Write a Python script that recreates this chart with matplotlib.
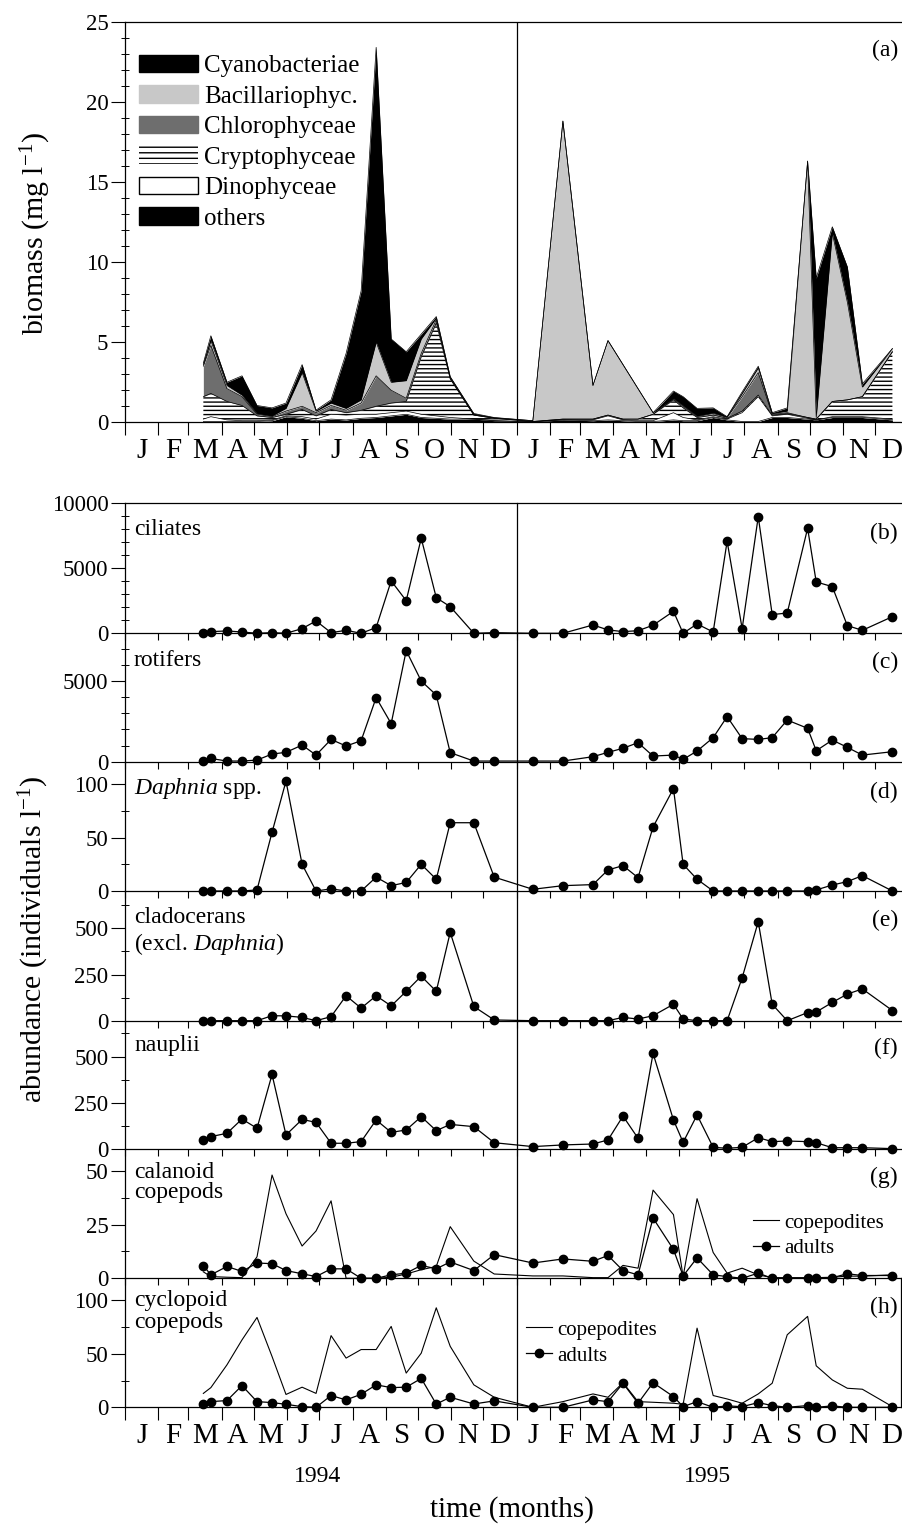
import numpy as np
import matplotlib
matplotlib.use('Agg')
import matplotlib.pyplot as plt
from matplotlib.patches import Patch
from matplotlib.ticker import FixedLocator, NullFormatter, FixedFormatter

plt.rcParams['font.family'] = ['Liberation Serif', 'DejaVu Serif']
plt.rcParams['mathtext.fontset'] = 'custom'
plt.rcParams['mathtext.rm'] = 'Liberation Serif'
plt.rcParams['mathtext.it'] = 'Liberation Serif:italic'
plt.rcParams['hatch.linewidth'] = 1.0

# ---------------- data ----------------
month_letters = ['J', 'F', 'M', 'A', 'M', 'J', 'J', 'A', 'S', 'O', 'N', 'D']
month_days = [31, 28, 31, 30, 31, 30, 31, 31, 30, 31, 30, 31]
years = ['1994', '1995']

# sampling dates, day number counted from 1 Jan 1994
days_1994 = [73, 80, 95, 109, 123, 137, 150, 165, 178, 192, 206, 220, 234, 248, 262,
             276, 290, 303, 325, 344]
days_1995 = [380, 408, 436, 450, 464, 478, 492, 511, 520, 533, 548, 561, 575, 590, 603,
             617, 636, 644, 659, 673, 687, 715]

# phytoplankton biomass (mg l-1) per group
others = [0.05, 0.05, 0.05, 0.05, 0.05, 0.1, 0.35, 0.25, 0.1, 0.2, 0.15, 0.25, 0.3, 0.4, 0.5,
          0.3, 0.25, 0.2, 0.2, 0.1,
          0.03, 0.15, 0.1, 0.15, 0.1, 0.05, 0.05, 0.15, 0.1, 0.1, 0.3, 0.15, 0.05, 0.05, 0.3,
          0.3, 0.2, 0.15, 0.3, 0.3, 0.3, 0.15]
dinophyceae = [0.15, 0.3, 0.1, 0.05, 0.05, 0.05, 0.05, 0.1, 0.1, 0.3, 0.3, 0.25, 0.2, 0.2, 0.2,
               0.2, 0.15, 0.1, 0.0, 0.0,
               0.0, 0.0, 0.05, 0.25, 0.05, 0.05, 0.05, 0.45, 0.2, 0.05, 0.05, 0.05, 0.55, 1.55, 0.1,
               0.2, 0.05, 0.0, 0.05, 0.05, 0.05, 0.05]
cryptophyceae = [1.4, 1.45, 1.15, 0.95, 0.3, 0.15, 0.1, 0.45, 0.2, 0.3, 0.15, 0.25, 0.5, 0.6, 0.6,
                 3.6, 5.8, 2.4, 0.25, 0.15,
                 0.02, 0.05, 0.05, 0.05, 0.05, 0.1, 0.4, 0.8, 0.6, 0.15, 0.1, 0.05, 0.1, 0.1, 0.05,
                 0.05, 0.05, 0.05, 0.95, 1.05, 1.25, 4.2]
chlorophyceae = [1.9, 3.0, 0.8, 0.55, 0.1, 0.05, 0.2, 0.2, 0.2, 0.25, 0.15, 0.45, 1.9, 0.8, 0.2,
                 0.2, 0.2, 0.05, 0.0, 0.0,
                 0.0, 0.0, 0.0, 0.0, 0.0, 0.0, 0.0, 0.05, 0.1, 0.05, 0.1, 0.05, 0.9, 1.4, 0.05,
                 0.05, 0.0, 0.0, 0.0, 0.0, 0.0, 0.0]
bacillariophyceae = [0.1, 0.3, 0.2, 0.1, 0.05, 0.05, 0.17, 2.1, 0.1, 0.15, 0.12, 0.2, 2.1, 0.5, 1.1,
                     0.9, 0.1, 0.05, 0.05, 0.03,
                     0.05, 18.6, 2.1, 4.65, 3.4, 1.9, 0.1, 0.05, 0.05, 0.05, 0.05, 0.03, 0.2, 0.3, 0.05,
                     0.1, 16.0, 0.1, 10.5, 6.1, 0.6, 0.2]
cyanobacteriae = [0.1, 0.3, 0.2, 1.2, 0.5, 0.5, 0.33, 0.5, 0.06, 0.2, 3.43, 6.8, 18.4, 2.7, 1.8,
                  0.3, 0.1, 0.05, 0.05, 0.02,
                  0.0, 0.0, 0.0, 0.0, 0.0, 0.0, 0.0, 0.45, 0.55, 0.47, 0.3, 0.02, 0.1, 0.1, 0.05,
                  0.2, 0.0, 8.7, 0.4, 2.2, 0.2, 0.0]

# zooplankton abundance (individuals l-1)
ciliates = [0, 130, 180, 100, 0, 50, 0, 360, 950, 50, 230, 0, 440, 4030, 2510, 7310, 2740, 2050, 0, 50,
            0, 0, 640, 260, 130, 200, 620, 1690, 0, 720, 100, 7080, 360, 8970, 1440, 1560, 8080,
            3950, 3590, 590, 230, 1280]
rotifers = [40, 200, 40, 40, 100, 475, 580, 1030, 410, 1380, 970, 1300, 3970, 2360, 6880, 5000, 4130,
            560, 40, 40,
            40, 40, 310, 580, 830, 1180, 350, 410, 145, 660, 1490, 2790, 1430, 1380, 1490, 2580, 2070,
            680, 1340, 890, 410, 620]
daphnia = [0, 0, 0, 0, 1, 55, 103, 25, 0, 2, 0, 0, 13, 5, 8, 25, 11, 64, 64, 13,
           1.6, 5, 6, 19.7, 23.8, 12.5, 60, 96, 25, 11, 0, 0, 0, 0, 0, 0, 0, 1, 5.6, 8.8, 14.4, 0]
cladocerans = [0, 0, 0, 0, 0, 27, 26, 18, 0, 22, 135, 68, 135, 80, 159, 241, 159, 478, 77, 4,
               0, 0, 0, 0, 18, 9, 27, 89, 9, 0, 0, 0, 232, 536, 89, 0, 44, 47, 99, 144, 172, 55]
nauplii = [49, 67, 85, 162, 112, 403, 76, 160, 144, 31, 31, 40, 157, 90, 103, 175, 99, 133, 121, 34,
           13, 22, 27, 49, 178, 58, 517, 157, 36, 184, 9, 4, 9, 61, 40, 43, 40, 34, 7, 7, 7, 2]
calanoid_copepodites = [3, 0.8, 0.5, 0.3, 10, 48, 30, 15, 22, 36, 0, 0, 0, 0.5, 2, 4, 5.5, 24, 8, 2,
                        1.1, 1.1, 0.3, 0.3, 6, 4.7, 41, 29.6, 0.8, 37, 12, 2.4, 4.7, 1.6, 0.3, 0.3,
                        0.3, 0.3, 0.5, 1, 1, 1.6]
calanoid_adults = [5.9, 1.6, 5.5, 3.2, 7.1, 6.8, 3.6, 2.1, 0.8, 4.4, 4.4, 0, 0, 1.6, 2.4, 6, 4.4, 7.6,
                   3.6, 11,
                   7.1, 9, 7.9, 10.6, 3.6, 1.6, 28, 13.4, 1.1, 9.5, 1.6, 0.8, 0, 2.4, 0, 0, 0, 0, 0.3,
                   2.1, 1.3, 1.3]
cyclopoid_copepodites = [13, 18.4, 39.7, 63, 84, 47.5, 12, 18.8, 13, 67, 46, 54, 54, 75.6, 32, 50.6, 93,
                         57, 21, 9.4,
                         0, 5.3, 12.5, 9.4, 23, 5.3, 4.7, 3.8, 2.8, 74, 11, 7.8, 3.8, 12.5, 22.5, 67.8,
                         85, 38.8, 25.6, 17.8, 16.9, 0.6]
cyclopoid_adults = [2.8, 5.3, 6.3, 20.3, 5.3, 4.4, 2.8, 0.6, 0, 11, 6.9, 12.2, 21, 18.4, 18.8, 27, 3,
                    9.4, 3.1, 6,
                    0, 0, 6.9, 5.3, 22.5, 3.8, 23, 10, 0.6, 5.3, 0, 1.3, 0.6, 4.4, 1.6, 0, 1.6, 0, 1.3,
                    0, 0, 0]

phyto_labels = ['Cyanobacteriae', 'Bacillariophyc.', 'Chlorophyceae', 'Cryptophyceae',
                'Dinophyceae', 'others']

# ---------------- layout helpers ----------------
W, H = 902, 1526
fig = plt.figure(figsize=(W / 100, H / 100), dpi=100)
XL, XR = 125, 901
days = np.array(days_1994 + days_1995, dtype=float)
edges = np.cumsum([0] + month_days * 2)
mids = (edges[:-1] + edges[1:]) / 2
XMAX = (XR - XL) / 1.0733


def box(top, bottom):
    return [XL / W, 1 - bottom / H, (XR - XL) / W, (bottom - top) / H]


def ftext(px, py, s, **kw):
    fig.text(px / W, 1 - py / H, s, **kw)


def month_axis(ax, tick_len, labels):
    ax.set_xlim(0, XMAX)
    ax.xaxis.set_major_locator(FixedLocator(edges))
    ax.xaxis.set_major_formatter(NullFormatter())
    ax.tick_params(axis='x', which='major', direction='out', length=tick_len, width=0.8)
    if labels:
        ax.xaxis.set_minor_locator(FixedLocator(mids))
        ax.xaxis.set_minor_formatter(FixedFormatter(month_letters * 2))
        ax.tick_params(axis='x', which='minor', length=0, labelsize=21, pad=11)
    else:
        ax.xaxis.set_minor_locator(FixedLocator([]))


def y_axis(ax, ymax, majors, minors):
    ax.set_ylim(0, ymax)
    ax.yaxis.set_major_locator(FixedLocator(majors))
    ax.yaxis.set_minor_locator(FixedLocator(minors))
    ax.tick_params(axis='y', which='major', direction='out', length=10, width=0.8,
                   labelsize=16.5, pad=2)
    ax.tick_params(axis='y', which='minor', direction='inout', length=6, width=0.7)


# ---------------- panel (a) ----------------
axa = fig.add_axes(box(21.7, 422.3))
axa.set_facecolor('none')
layers = [others, dinophyceae, cryptophyceae, chlorophyceae, bacillariophyceae, cyanobacteriae]
styles = [dict(facecolor='black', edgecolor='black'),
          dict(facecolor='white', edgecolor='black'),
          dict(facecolor='white', edgecolor='black', hatch='----'),
          dict(facecolor='#6e6e6e', edgecolor='#6e6e6e'),
          dict(facecolor='#c8c8c8', edgecolor='#c8c8c8'),
          dict(facecolor='black', edgecolor='black')]
base = np.zeros(len(days))
for vals, st in zip(layers, styles):
    top = base + np.array(vals)
    axa.fill_between(days, base, top, linewidth=0.0, **st)
    axa.plot(days, top, color='black', lw=0.5)
    base = top
axa.plot([days[-1], XMAX], [0, 0], color='black', lw=0.8)
axa.axvline(365, color='black', lw=0.9)
month_axis(axa, 9.5, True)
y_axis(axa, 25, [0, 5, 10, 15, 20, 25], [i for i in range(26) if i % 5])
axa.spines['right'].set_visible(False)
for s in axa.spines.values():
    s.set_linewidth(0.9)

handles = [Patch(facecolor='black', edgecolor='black'),
           Patch(facecolor='#c8c8c8', edgecolor='#c8c8c8'),
           Patch(facecolor='#6e6e6e', edgecolor='#6e6e6e'),
           Patch(facecolor='white', edgecolor='black', hatch='---', linewidth=0),
           Patch(facecolor='white', edgecolor='black', linewidth=1.0),
           Patch(facecolor='black', edgecolor='black')]
axa.legend(handles, phyto_labels, loc='upper left', bbox_to_anchor=(-0.0015, 0.955),
           frameon=False, fontsize=18, handlelength=2.36, handleheight=0.7,
           labelspacing=0.32, handletextpad=0.24, borderaxespad=0.2)
ftext(898, 50, '(a)', ha='right', va='center', fontsize=17)

# ---------------- zooplankton panels ----------------
# (tag, values, top px, bottom px, ymax, major ticks, minor ticks, name, name top px, line spacing, tag px)
panels = [
    ('(b)', ciliates, 503.3, 633.3, 10000, [0, 5000, 10000], [i * 1000 for i in range(11) if i % 5],
     'ciliates', 519, 1.0, 533),
    ('(c)', rotifers, 633.3, 761.7, 7955, [0, 5000], [1000, 2000, 3000, 4000, 6000, 7000],
     'rotifers', 650, 1.0, 662),
    ('(d)', daphnia, 761.7, 891.0, 121.2, [0, 50, 100], [25, 75],
     r'$\mathit{Daphnia}$ spp.', 776, 1.0, 792),
    ('(e)', cladocerans, 891.0, 1020.7, 702, [0, 250, 500], [125, 375, 625],
     'cladocerans\n(excl. $\\mathit{Daphnia}$)', 907, 1.15, 920),
    ('(f)', nauplii, 1020.7, 1149.0, 694, [0, 250, 500], [125, 375, 625],
     'nauplii', 1035, 1.0, 1048),
    ('(g)', None, 1149.0, 1278.3, 60.1, [0, 25, 50], [12.5, 37.5],
     'calanoid\ncopepods', 1162, 0.92, 1177),
    ('(h)', None, 1278.3, 1407.3, 120.6, [0, 50, 100], [25, 75],
     'cyclopoid\ncopepods', 1290, 1.05, 1307),
]

for i, (tag, vals, top, bot, ymax, majors, minors, name, name_y, lsp, tag_y) in enumerate(panels):
    ax = fig.add_axes(box(top, bot))
    ax.set_facecolor('none')
    last = (i == len(panels) - 1)
    if tag in ('(g)', '(h)'):
        cope, adul = ((calanoid_copepodites, calanoid_adults) if tag == '(g)'
                      else (cyclopoid_copepodites, cyclopoid_adults))
        ax.plot(days, cope, color='black', lw=0.8, clip_on=False, label='copepodites')
        ax.plot(days, adul, '-o', color='black', lw=0.9, ms=6, clip_on=False, label='adults')
        lx, ly = ((745, 0.57) if tag == '(g)' else (518, 0.74))
        ax.legend(loc='upper left', bbox_to_anchor=((lx - XL) / (XR - XL), ly),
                  frameon=False, fontsize=15, handlelength=1.25, handletextpad=0.25,
                  labelspacing=0.3, borderaxespad=0)
    else:
        ax.plot(days, vals, '-o', color='black', lw=0.9, ms=6, clip_on=False)
    ax.axvline(365, color='black', lw=0.9, clip_on=False)
    month_axis(ax, 9 if last else 5, last)
    y_axis(ax, ymax, majors, minors)
    ax.spines['top'].set_visible(i == 0)
    ax.spines['right'].set_visible(last)
    for s in ax.spines.values():
        s.set_linewidth(0.9)
    ftext(134, name_y, name, ha='left', va='top', fontsize=17, linespacing=lsp)
    ftext(898, tag_y, tag, ha='right', va='center', fontsize=17)

# ---------------- axis titles ----------------
ftext(36, 233, 'biomass (mg l$^{-1}$)', rotation=90, ha='center', va='center', fontsize=21.5)
ftext(34, 939, 'abundance (individuals l$^{-1}$)', rotation=90, ha='center', va='center',
      fontsize=21.5)
ftext(318, 1477, years[0], ha='center', va='center', fontsize=17)
ftext(707, 1477, years[1], ha='center', va='center', fontsize=17)
ftext(512, 1510, 'time (months)', ha='center', va='center', fontsize=21)

fig.savefig('out.png', dpi=100)
